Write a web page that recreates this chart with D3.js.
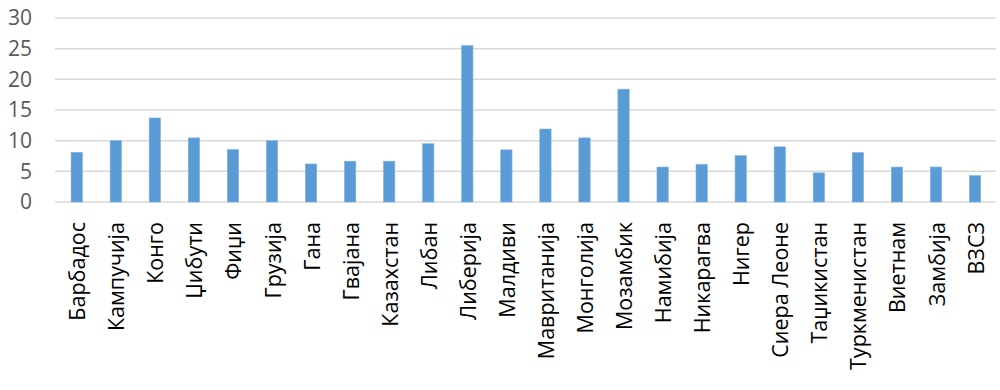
<!DOCTYPE html>
<html lang="sr">
<head>
<meta charset="utf-8" />
<title>Chart</title>
<script src="https://cdn.jsdelivr.net/npm/d3@7"></script>
<style>
  body { margin: 0; background: #fff; }
  text { font-family: "Open Sans", sans-serif; }
</style>
</head>
<body>
<script>
// categories and values
var countries = ["Барбадос", "Кампучија", "Конго", "Џибути", "Фиџи", "Грузија", "Гана",
  "Гвајана", "Казахстан", "Либан", "Либерија", "Малдиви", "Мавританија", "Монголија",
  "Мозамбик", "Намибија", "Никарагва", "Нигер", "Сиера Леоне", "Таџикистан",
  "Туркменистан", "Виетнам", "Замбија", "ВЗСЗ"];
var values = [8.1, 10.0, 13.7, 10.45, 8.55, 10.0, 6.2, 6.65, 6.65, 9.5, 25.5, 8.5, 11.9,
  10.45, 18.4, 5.7, 6.15, 7.55, 9.0, 4.75, 8.05, 5.7, 5.7, 4.3];
var yTicks = [0, 5, 10, 15, 20, 25, 30];

var w = 1000, h = 390;
var plotLeft = 55, plotRight = 996, plotTop = 18, plotBottom = 202;

var svg = d3.select("body").append("svg")
  .attr("width", w)
  .attr("height", h);

var x = d3.scaleBand()
  .domain(countries)
  .range([57.2, 994.6])
  .paddingInner(0.71)
  .paddingOuter(0.355);

var y = d3.scaleLinear()
  .domain([0, 30])
  .range([plotBottom, plotTop]);

// gridlines
svg.append("g")
  .selectAll("line")
  .data(yTicks)
  .enter()
  .append("line")
  .attr("x1", plotLeft)
  .attr("x2", plotRight)
  .attr("y1", function(d) { return y(d); })
  .attr("y2", function(d) { return y(d); })
  .attr("stroke", "#d9d9d9")
  .attr("stroke-width", 1.5);

// y axis labels
var yAxis = d3.axisLeft(y).tickValues(yTicks).tickSize(0).tickPadding(0);
var gy = svg.append("g")
  .attr("transform", "translate(32,0)")
  .call(yAxis);
gy.select(".domain").remove();
gy.selectAll("text")
  .attr("fill", "#595959")
  .style("font-size", "21px");

// bars
svg.append("g")
  .selectAll("rect")
  .data(values)
  .enter()
  .append("rect")
  .attr("x", function(d, i) { return x(countries[i]); })
  .attr("y", function(d) { return y(d); })
  .attr("width", x.bandwidth())
  .attr("height", function(d) { return y(0) - y(d); })
  .attr("fill", "#5b9bd5")
  .attr("stroke", "#7fb2e0")
  .attr("stroke-width", 0.6);

// x axis labels
var xAxis = d3.axisBottom(x).tickSize(0).tickPadding(0);
var gx = svg.append("g")
  .attr("transform", "translate(0," + plotBottom + ")")
  .call(xAxis);
gx.select(".domain").remove();
gx.selectAll("text")
  .attr("fill", "#000")
  .style("font-size", "21.5px")
  .attr("text-anchor", "end")
  .attr("dy", "0.35em")
  .attr("transform", "translate(1,20) rotate(-90)")
  .attr("x", 0)
  .attr("y", 0);
</script>
</body>
</html>
